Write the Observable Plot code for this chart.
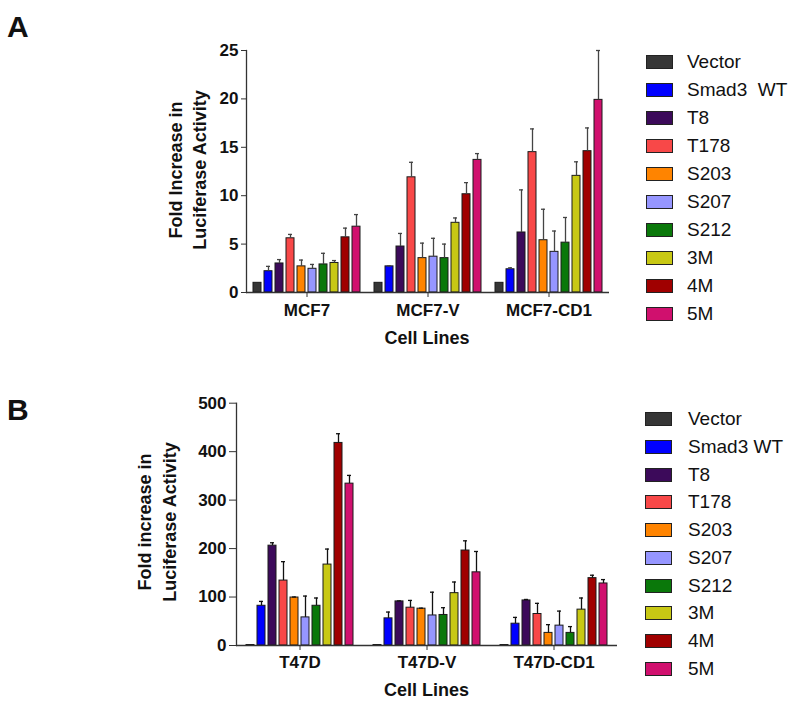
<!DOCTYPE html>
<html><head><meta charset="utf-8">
<script src="https://cdn.jsdelivr.net/npm/d3@7"></script>
<script src="https://cdn.jsdelivr.net/npm/@observablehq/plot@0.6"></script>
<style>
body{margin:0;background:#fff;font-family:"Liberation Sans",Arial,sans-serif;color:#111}
#root{position:relative;width:800px;height:711px;overflow:hidden}
.svgwrap{position:absolute;left:0}
.letter{position:absolute;left:7px;font-weight:bold;font-size:30px;line-height:30px}
.ylab{position:absolute;width:200px;transform:rotate(-90deg);font-weight:bold;font-size:18px;text-align:center;white-space:nowrap}
.xlab{position:absolute;width:200px;font-weight:bold;font-size:18px;line-height:22px;text-align:center}
.lg{position:absolute;height:20px;line-height:20px;font-size:19px;white-space:pre}
.sw{position:absolute;width:27px;height:14px;box-sizing:border-box;border:1px solid #222}
</style>
</head><body><div id="root"></div>
<script>
// ---- data ----
const treatments = ["Vector","Smad3 WT","T8","T178","S203","S207","S212","3M","4M","5M"];
const legendLabelsA = ["Vector","Smad3  WT","T8","T178","S203","S207","S212","3M","4M","5M"];
const legendLabelsB = ["Vector","Smad3 WT","T8","T178","S203","S207","S212","3M","4M","5M"];
const colors = ["#363636","#0000ff","#3c0a5a","#f84848","#ff8400","#9696ff","#0a780a","#c8c814","#a00000","#d0106e"];

const cellLinesA = ["MCF7","MCF7-V","MCF7-CD1"];
const meanMCF7    = [1.0, 2.2, 3.0, 5.6, 2.7, 2.45, 2.9, 3.05, 5.7, 6.8];
const semMCF7     = [0, 0.5, 0.4, 0.4, 0.65, 0.45, 1.15, 0.25, 0.95, 1.25];
const meanMCF7V   = [1.0, 2.7, 4.75, 11.9, 3.55, 3.7, 3.55, 7.2, 10.15, 13.7];
const semMCF7V    = [0, 0.05, 1.35, 1.55, 1.55, 1.9, 1.45, 0.5, 1.2, 0.65];
const meanMCF7CD1 = [1.0, 2.4, 6.2, 14.5, 5.4, 4.2, 5.15, 12.05, 14.6, 19.9];
const semMCF7CD1  = [0, 0.15, 4.4, 2.4, 3.2, 2.15, 2.6, 1.45, 2.4, 5.1];
const yTicksA = [0, 5, 10, 15, 20, 25];

const cellLinesB = ["T47D","T47D-V","T47D-CD1"];
const meanT47D    = [1, 82, 206, 134, 99, 58, 82, 167, 418, 334];
const semT47D     = [0, 9, 6, 39, 1, 44, 16, 32, 19, 17];
const meanT47DV   = [1, 56, 91, 78, 76, 62, 63, 108, 196, 151];
const semT47DV    = [0, 13, 1, 15, 1, 48, 15, 23, 20, 43];
const meanT47DCD1 = [1, 45, 93, 65, 26, 41, 26, 74, 139, 128];
const semT47DCD1  = [0, 13, 2, 22, 17, 30, 13, 24, 6, 8];
const yTicksB = [0, 100, 200, 300, 400, 500];

function rows(lines, means, sems) {
  return lines.flatMap((l, i) => treatments.map((t, j) => ({
    line: l, treat: t, v: means[i][j], sem: sems[i][j], e: means[i][j] + sems[i][j]
  })));
}
const dataA = rows(cellLinesA, [meanMCF7, meanMCF7V, meanMCF7CD1], [semMCF7, semMCF7V, semMCF7CD1]);
const dataB = rows(cellLinesB, [meanT47D, meanT47DV, meanT47DCD1], [semT47D, semT47DV, semT47DCD1]);

function panel(o) {
  const withErr = o.data.filter(d => d.sem > 0);
  return Plot.plot({
    width: o.width, height: o.height,
    marginTop: o.mt, marginBottom: o.mb, marginLeft: o.ml, marginRight: o.mr,
    style: {fontFamily: '"Liberation Sans", Arial, sans-serif', color: "#111", background: "transparent", overflow: "visible"},
    fx: {domain: o.lines, paddingInner: 0, paddingOuter: 0, label: null},
    x: {domain: treatments, paddingInner: o.xpi, paddingOuter: o.xpo, axis: null},
    y: {domain: [o.ticks[0], o.ticks[o.ticks.length - 1]], label: null},
    color: {domain: treatments, range: colors},
    marks: [
      Plot.barY(o.data, {fx: "line", x: "treat", y: "v", fill: "treat", stroke: "#1a1a1a", strokeWidth: 1}),
      Plot.ruleX(withErr, {fx: "line", x: "treat", y1: "v", y2: "e", stroke: o.errColor, strokeWidth: 1.3}),
      Plot.tickY(withErr, {fx: "line", x: "treat", y: "e", stroke: o.errColor, strokeWidth: 1.3, insetLeft: 2, insetRight: 2}),
      Plot.ruleY([0], {stroke: "#333", strokeWidth: 1.3}),
      Plot.frame({anchor: "left", facet: "super", stroke: "#333", strokeWidth: 1.3}),
      Plot.axisY({ticks: o.ticks, tickSize: o.yts, tickPadding: 3, fontSize: 17, fontWeight: "bold", label: null, tickFormat: d => String(d), stroke: "#333"}),
      Plot.axisFx({anchor: "bottom", tickSize: 5, tickPadding: o.fxtp, fontSize: 17, fontWeight: "bold", label: null, stroke: "#333"})
    ]
  });
}

const root = document.getElementById("root");
function add(el, top) { const w = document.createElement("div"); w.className = "svgwrap"; w.style.top = top + "px"; w.appendChild(el); root.appendChild(w); }

add(panel({data: dataA, lines: cellLinesA, ticks: yTicksA, width: 620, height: 355, mt: 50, mb: 63, ml: 245, mr: 11,
  xpi: 0.25, xpo: 0.5, yts: 5, fxtp: 6, errColor: "#444"}), 0);
add(panel({data: dataB, lines: cellLinesB, ticks: yTicksB, width: 630, height: 356, mt: 47.7, mb: 66, ml: 235, mr: 12,
  xpi: 0.26, xpo: 0.445, yts: 7, fxtp: 5, errColor: "#111"}), 355);

function html(cls, text, css) { const d = document.createElement("div"); d.className = cls; d.textContent = text; Object.assign(d.style, css); root.appendChild(d); return d; }

html("letter", "A", {top: "11.6px"});
html("letter", "B", {top: "394.6px"});

function ylab(lines, cx, cy, lh) {
  const d = document.createElement("div"); d.className = "ylab";
  d.style.lineHeight = lh + "px";
  d.style.height = (2 * lh) + "px";
  d.style.left = (cx - 100) + "px"; d.style.top = (cy - lh) + "px";
  lines.forEach((t, i) => { if (i) d.appendChild(document.createElement("br")); d.appendChild(document.createTextNode(t)); });
  root.appendChild(d);
}
ylab(["Fold Increase in", "Luciferase Activity"], 187.5, 170, 24);
ylab(["Fold increase in", "Luciferase Activity"], 158, 522, 25);

html("xlab", "Cell Lines", {left: (427 - 100) + "px", top: (338 - 11) + "px"});
html("xlab", "Cell Lines", {left: (426.5 - 100) + "px", top: (690 - 11) + "px"});

function legend(labels, y0, dy, swx, tx) {
  labels.forEach((t, i) => {
    const cy = y0 + dy * i;
    const s = document.createElement("div"); s.className = "sw";
    Object.assign(s.style, {left: swx + "px", top: (cy - 7) + "px", background: colors[i]});
    root.appendChild(s);
    html("lg", t, {left: tx + "px", top: (cy - 10) + "px"});
  });
}
legend(legendLabelsA, 62.3, 27.95, 646, 687);
legend(legendLabelsB, 419, 27.75, 645, 688);
</script>
</body></html>
